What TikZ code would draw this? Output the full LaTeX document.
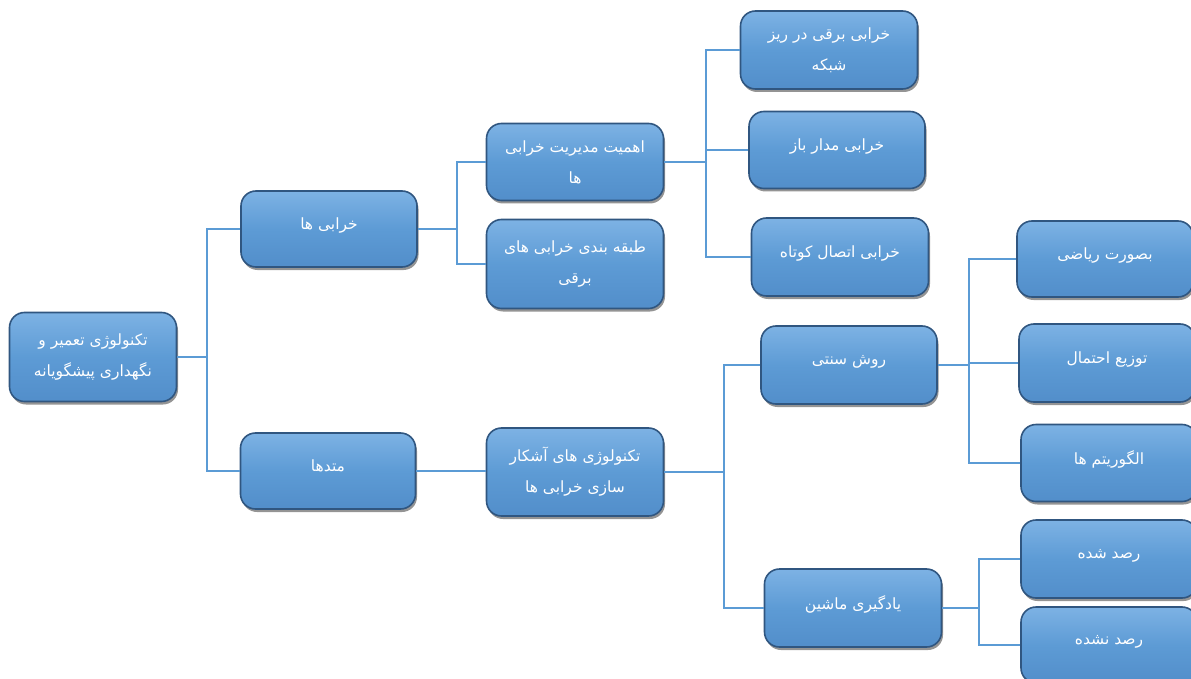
\documentclass[tikz,border=0pt]{standalone}
\usepackage{fontspec}
\usetikzlibrary{shadows}
\TeXXeTstate=1
\newfontfamily\arabicfont[Script=Arabic]{DejaVu Sans}
\definecolor{linec}{RGB}{91,155,213}
\definecolor{boxtop}{RGB}{125,178,228}
\definecolor{boxmid}{RGB}{93,155,213}
\definecolor{boxbot}{RGB}{82,142,202}
\definecolor{boxedge}{RGB}{48,86,128}
\tikzset{
  box/.style={rounded corners=15pt, draw=boxedge, line width=1.6pt,
    top color=boxtop, bottom color=boxbot, middle color=boxmid,
    drop shadow={shadow xshift=1.5pt, shadow yshift=-3pt, fill=black!70, opacity=.6},
    text=white, align=center, inner sep=2pt,
    font=\arabicfont\fontsize{15.5}{31}\selectfont},
  conn/.style={draw=linec, line width=1.5pt}
}
\newcommand{\rl}[1]{\beginR #1\endR}
\begin{document}
\begin{tikzpicture}[x=1pt,y=-1pt]
\useasboundingbox (0,0) rectangle (1191,679);
% boxes
\node[box, minimum width=167pt, minimum height=89pt] (n1) at (93,357) {\rl{تکنولوژی تعمیر و}\\\rl{نگهداری پیشگویانه}};
\node[box, minimum width=176pt, minimum height=76pt, text depth=10pt] (n2) at (329,229) {\rl{خرابی ها}};
\node[box, minimum width=175pt, minimum height=76pt, text depth=10pt] (n3) at (328,471) {\rl{متدها}};
\node[box, minimum width=177pt, minimum height=77pt] (n4) at (575,162) {\rl{اهمیت مدیریت خرابی}\\\rl{ها}};
\node[box, minimum width=177pt, minimum height=89pt] (n5) at (575,264) {\rl{طبقه بندی خرابی های}\\\rl{برقی}};
\node[box, minimum width=177pt, minimum height=88pt] (n6) at (575,472) {\rl{تکنولوژی های آشکار}\\\rl{سازی خرابی ها}};
\node[box, minimum width=177pt, minimum height=78pt] (n7) at (829,50) {\rl{خرابی برقی در ریز}\\\rl{شبکه}};
\node[box, minimum width=176pt, minimum height=77pt, text depth=10pt] (n8) at (837,150) {\rl{خرابی مدار باز}};
\node[box, minimum width=177pt, minimum height=78pt, text depth=10pt] (n9) at (840,257) {\rl{خرابی اتصال کوتاه}};
\node[box, minimum width=176pt, minimum height=78pt, text depth=10pt] (n10) at (849,365) {\rl{روش سنتی}};
\node[box, minimum width=177pt, minimum height=78pt, text depth=10pt] (n11) at (853,608) {\rl{یادگیری ماشین}};
\node[box, minimum width=176pt, minimum height=76pt, text depth=10pt] (n12) at (1105,259) {\rl{بصورت ریاضی}};
\node[box, minimum width=176pt, minimum height=78pt, text depth=10pt] (n13) at (1107,363) {\rl{توزیع احتمال}};
\node[box, minimum width=176pt, minimum height=77pt, text depth=10pt] (n14) at (1109,463) {\rl{الگوریتم ها}};
\node[box, minimum width=176pt, minimum height=78pt, text depth=10pt] (n15) at (1109,559) {\rl{رصد شده}};
\node[box, minimum width=176pt, minimum height=76pt, text depth=10pt] (n16) at (1109,645) {\rl{رصد نشده}};
% junctions
\coordinate (j1) at (207,351);
\coordinate (j2) at (457,225);
\coordinate (j3) at (706,155);
\coordinate (j4) at (724,478);
\coordinate (j5) at (969,364);
\coordinate (j6) at (979,608);
% connectors
\draw[conn] (n1.east) -- (n1.east -| j1);
\draw[conn] (n2.west) -| (j1) |- (n3.west);
\draw[conn] (n2.east) -- (n2.east -| j2);
\draw[conn] (n4.west) -| (j2) |- (n5.west);
\draw[conn] (n4.east) -- (n4.east -| j3);
\draw[conn] (n7.west) -| (j3) |- (n9.west);
\draw[conn] (n8.west) -- (n8.west -| j3);
\draw[conn] (n3.east) -- (n3.east -| n6.west);
\draw[conn] (n6.east) -- (n6.east -| j4);
\draw[conn] (n10.west) -| (j4) |- (n11.west);
\draw[conn] (n10.east) -- (n10.east -| j5);
\draw[conn] (n12.west) -| (j5) |- (n14.west);
\draw[conn] (n13.west) -- (n13.west -| j5);
\draw[conn] (n11.east) -- (n11.east -| j6);
\draw[conn] (n15.west) -| (j6) |- (n16.west);
\end{tikzpicture}
\end{document}
